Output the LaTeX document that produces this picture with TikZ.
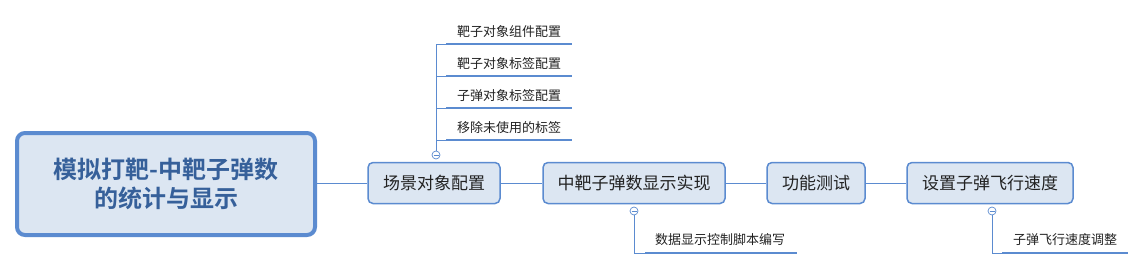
\documentclass[tikz,border=0pt]{standalone}
\usepackage{fontspec}
\newfontfamily\cjk{Noto Sans CJK SC}
\newfontfamily\cjkbold{Noto Sans CJK SC Bold}
\definecolor{lineblue}{HTML}{5B8BD0}
\definecolor{nodefill}{HTML}{DCE6F2}
\definecolor{roottext}{HTML}{36609A}
\definecolor{txt}{HTML}{222222}
\begin{document}
\begin{tikzpicture}[x=1pt,y=-1pt,
  topic/.style={draw=lineblue,line width=1.5pt,fill=nodefill,rounded corners=5pt,inner sep=0pt,font=\cjk\fontsize{17}{19}\selectfont,text=txt},
  rootbox/.style={draw=lineblue,line width=4pt,fill=nodefill,rounded corners=8pt,inner sep=0pt,align=center,font=\cjkbold\fontsize{24}{29}\selectfont,text=roottext},
  conn/.style={draw=lineblue,line width=0.8pt},
  uline/.style={draw=lineblue,line width=2.2pt},
  sublabel/.style={font=\cjk\fontsize{13}{15}\selectfont,text=txt,inner sep=0pt},
  collapse/.style={circle,draw=lineblue,line width=0.7pt,fill=white,minimum size=8pt,inner sep=0pt}
]
\useasboundingbox (0,0) rectangle (1146,270);
% root
\node[rootbox,minimum width=298pt,minimum height=102pt] (root) at (166,184) {模拟打靶-中靶子弹数\\的统计与显示};
% topics
\node[topic,minimum width=132pt,minimum height=41pt] (t1) at (434,183) {场景对象配置};
\node[topic,minimum width=182pt,minimum height=41pt] (t2) at (634,183) {中靶子弹数显示实现};
\node[topic,minimum width=98pt,minimum height=41pt] (t3) at (816,183) {功能测试};
\node[topic,minimum width=166pt,minimum height=41pt] (t4) at (990,183) {设置子弹飞行速度};
\draw[conn] (root.east |- t1.west) -- (t1.west);
\draw[conn] (t1.east) -- (t2.west);
\draw[conn] (t2.east) -- (t3.west);
\draw[conn] (t3.east) -- (t4.west);
% top branch
\node[collapse] (c1) at (436,155) {};
\coordinate (v1) at (436,44);
\draw[conn] (c1.north) -- (v1);
\foreach \y/\txt/\n in {44/靶子对象组件配置/a,76/靶子对象标签配置/b,108/子弹对象标签配置/c,140/移除未使用的标签/d}{
  \coordinate (j\n) at (436,\y);
  \coordinate (s\n) at (446,\y);
  \coordinate (e\n) at (572,\y);
  \draw[conn] (j\n) -- (s\n);
  \draw[uline] (s\n) -- (e\n);
  \node[sublabel] (l\n) at (509,\y-12) {\txt};
}
\draw[conn] (c1.center) ++(-2.5,0) -- ++(5,0);
% bottom branch 1
\node[collapse] (c2) at (634,211) {};
\coordinate (k2) at (634,253);
\coordinate (s2) at (645,253);
\coordinate (e2) at (797,253);
\draw[conn] (c2.south) -- (k2) -- (s2);
\draw[uline] (s2) -- (e2);
\node[sublabel] (l2) at (720,240) {数据显示控制脚本编写};
\draw[conn] (c2.center) ++(-2.5,0) -- ++(5,0);
% bottom branch 2
\node[collapse] (c3) at (992,211) {};
\coordinate (k3) at (992,253);
\coordinate (s3) at (1002,253);
\coordinate (e3) at (1128,253);
\draw[conn] (c3.south) -- (k3) -- (s3);
\draw[uline] (s3) -- (e3);
\node[sublabel] (l3) at (1065,240) {子弹飞行速度调整};
\draw[conn] (c3.center) ++(-2.5,0) -- ++(5,0);
\end{tikzpicture}
\end{document}
